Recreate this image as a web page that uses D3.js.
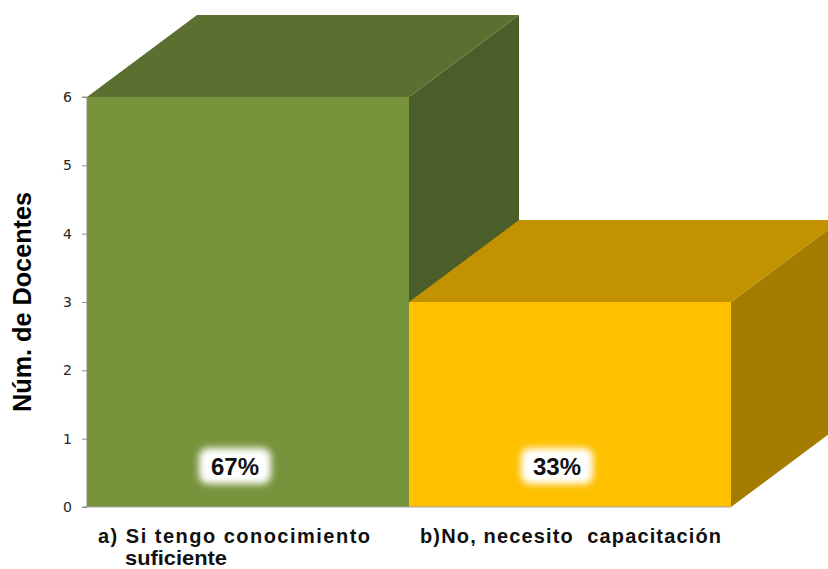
<!DOCTYPE html>
<html>
<head>
<meta charset="utf-8">
<script src="https://cdn.jsdelivr.net/npm/d3@7"></script>
<style>
  html, body { margin: 0; padding: 0; background: #fff; }
  svg { display: block; }
  .ytick text { font-family: 'DejaVu Sans', Verdana, sans-serif; font-size: 14px; }
</style>
</head>
<body>
<svg id="chart" width="828" height="569"></svg>
<script>
// ---- data ----
const categoryLines = [
  ["a) Si tengo conocimiento", "suficiente"],
  ["b)No, necesito  capacitación"]
];
const categories = ["a", "b"];
const values = [6, 3];
const percentLabels = ["67%", "33%"];
const yTicks = [0, 1, 2, 3, 4, 5, 6];
const axisTitle = "Núm. de Docentes";

const frontColors = ["#77933C", "#FFC000"];
const topColors = ["#5B7030", "#C39200"];
const sideColors = ["#4B5E29", "#A47C00"];

(function () {
// ---- layout ----
const svg = d3.select("#chart");
const mLeft = 87, mRight = 731, mTop = 97, mBottom = 507;
const depthX = 110, depthY = 82;

const y = d3.scaleLinear().domain([0, 6]).range([mBottom, mTop]);
const x = d3.scaleBand().domain(categories).range([mLeft, mRight]).padding(0);

const defs = svg.append("defs");
const blur = defs.append("filter").attr("id", "glow")
  .attr("x", "-50%").attr("y", "-50%").attr("width", "200%").attr("height", "200%");
blur.append("feGaussianBlur").attr("stdDeviation", 3.5);

// bars
const g = svg.append("g");
categories.forEach((c, i) => {
  const x0 = x(c), x1 = x(c) + x.bandwidth();
  const yt = y(values[i]), yb = y(0);
  g.append("path")
    .attr("d", `M${x1},${yb} L${x1 + depthX},${yb - depthY} L${x1 + depthX},${yt - depthY} L${x1},${yt} Z`)
    .attr("fill", sideColors[i]);
  g.append("path")
    .attr("d", `M${x0},${yt} L${x0 + depthX},${yt - depthY} L${x1 + depthX},${yt - depthY} L${x1},${yt} Z`)
    .attr("fill", topColors[i]);
  g.append("rect")
    .attr("x", x0).attr("y", yt)
    .attr("width", x1 - x0).attr("height", yb - yt)
    .attr("fill", frontColors[i]);
});

// axis
const axis = d3.axisLeft(y).tickValues(yTicks).tickSize(5).tickPadding(10).tickFormat(d3.format("d"));
const ag = svg.append("g").attr("class", "ytick")
  .attr("transform", `translate(${mLeft},0)`).call(axis)
  .attr("font-size", 14).attr("font-family", "DejaVu Sans");
ag.select(".domain").attr("stroke", "#8c8c8c").attr("d", `M-5,${mTop}H0V${mBottom}H-5`);
ag.selectAll(".tick line").attr("stroke", "#8c8c8c");
ag.selectAll(".tick text").attr("fill", "#262626");
svg.append("line")
  .attr("x1", mLeft).attr("x2", mRight).attr("y1", mBottom).attr("y2", mBottom)
  .attr("stroke", "#a6a6a6").attr("stroke-width", 1);

// axis title
svg.append("text")
  .attr("transform", `translate(31,${(y(0) + y(6)) / 2}) rotate(-90)`)
  .attr("text-anchor", "middle")
  .attr("textLength", 220).attr("lengthAdjust", "spacingAndGlyphs")
  .style("font-family", "'Liberation Sans', Arial, sans-serif")
  .style("font-size", "25px").style("font-weight", "bold")
  .attr("fill", "#000")
  .text(axisTitle);

// percent labels with white glow
categories.forEach((c, i) => {
  const cx = x(c) + x.bandwidth() / 2 - 13;
  const cy = y(0) - 41;
  svg.append("rect")
    .attr("x", cx - 36).attr("y", cy - 18)
    .attr("width", 72).attr("height", 36)
    .attr("rx", 9)
    .attr("fill", "#fff")
    .attr("filter", "url(#glow)");
  svg.append("text")
    .attr("x", cx).attr("y", cy + 8.5)
    .attr("text-anchor", "middle")
    .style("font-family", "'Liberation Sans', Arial, sans-serif")
    .style("font-size", "24px").style("font-weight", "bold")
    .attr("fill", "#111")
    .text(percentLabels[i]);
});

// category labels
const firstLineWidths = [272, 301];
categories.forEach((c, i) => {
  categoryLines[i].forEach((line, j) => {
    const t = svg.append("text")
      .attr("x", x(c) + 11 + (j > 0 ? 27 : 0))
      .attr("y", mBottom + 36 + j * 22)
      .attr("text-anchor", "start")
      .style("font-family", "'Liberation Sans', Arial, sans-serif")
      .style("font-size", "20px").style("font-weight", "bold")
      .style("white-space", "pre")
      .attr("fill", "#111")
      .text(line);
    if (j === 0) t.attr("textLength", firstLineWidths[i]).attr("lengthAdjust", "spacing");
    else t.attr("textLength", 102).attr("lengthAdjust", "spacingAndGlyphs");
  });
});
})();
</script>
</body>
</html>
